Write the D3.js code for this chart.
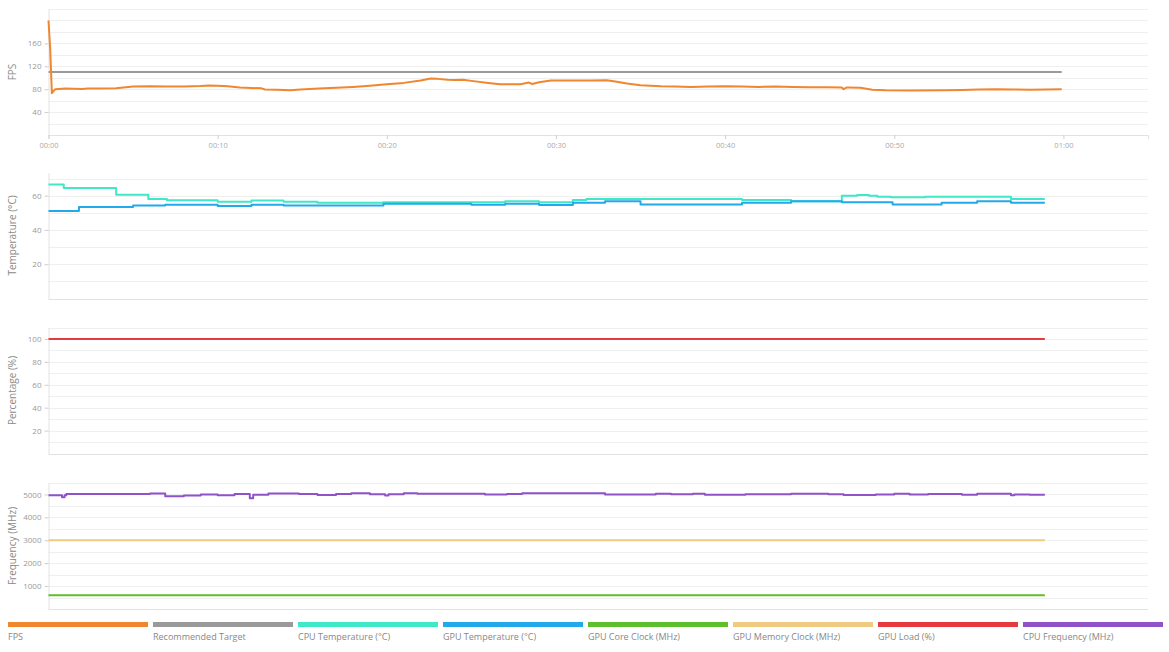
<!DOCTYPE html>
<html><head><meta charset="utf-8">
<script src="https://cdn.jsdelivr.net/npm/d3@7/dist/d3.min.js"></script>
<style>
html,body{margin:0;padding:0;background:#fff;}
svg{display:block;font-family:"Open Sans",sans-serif;}
</style></head>
<body><svg id="chart" width="1169" height="652"></svg>
<script>
// ---------- DATA ----------
const seriesNames = ["FPS","Recommended Target","CPU Temperature (°C)","GPU Temperature (°C)","GPU Core Clock (MHz)","GPU Memory Clock (MHz)","GPU Load (%)","CPU Frequency (MHz)"];
const seriesColors = ["#f0862e","#9a9a9a","#3fe8c6","#22a9ec","#5cbf2b","#eecb80","#e63a3f","#8f52c9"];
const xTickLabels = ["00:00","00:10","00:20","00:30","00:40","00:50","01:00"];
const xTickValues = [0,10,20,30,40,50,60];

// [seconds, value]
const fps = [[0,200],[0.1,150],[0.2,73],[0.4,80],[1,81],[2,80.5],[2.3,81],[3,81],[4,81.5],[5,84.5],[6,85],[7,84.5],[8,84.5],[9,85.5],[9.5,86.5],[10,86],[10.6,85],[11.3,83],[12,82],[12.6,81.5],[12.8,79.5],[13.5,79],[14.3,78],[14.9,79.5],
 [16,81],[17,82.5],[18,84],[19,86],[20,88.5],[21,91],[22,95],[22.6,98.5],[23,98],[23.6,96.5],[24,96],[24.5,96.5],[25,94.5],[26,91],[26.7,88.7],[27.9,88.7],[28.4,91.5],[28.6,89],[29,92],[29.7,95],[31,95],[32,95],[33,95.5],[33.5,93.5],[34.2,90],[35,87],[36.2,85],
 [37,84.5],[38,84],[39,84.5],[40,85],[41,84.5],[42,84],[43,84.5],[44,84],[45,83.5],[46,83.5],[46.9,83],[47,80],[47.2,83],[48,82.5],[48.7,79],[49.5,78],[51,77.5],[53,78],[54,78.5],[55,79.5],[56,80],[57,79.5],[58,79],[59,79.5],[59.9,80]];
const target = [[0,110],[59.9,110]];
const cpuTemp = [[0,66.5],[0.9,64.5],[4,60.5],[5.9,58.1],[7,57.3],[10,56.4],[12,57.2],[13.9,56.5],[15.9,55.9],[19.8,56.2],[27,56.8],[29,56.2],[31,57.5],[31.8,58.1],[41,57.5],[43.9,56.8],[46.9,60],[47.8,60.4],[48.5,60],[49,59.4],[49.8,59.1],[51.8,59.4],[56.9,58.1],[58.9,58.1]];
const gpuTemp = [[0,51],[1.8,53.4],[5,54.2],[6.9,54.7],[10,54],[12,54.7],[13.9,54.2],[19.8,55.3],[25,54.7],[27,55.3],[29,54.5],[31,55.8],[32.9,56.8],[35,54.9],[41,55.8],[43.9,56.8],[46.9,56.2],[49.9,54.9],[52.8,55.8],[54.9,56.8],[56.9,55.8],[58.9,55.8]];
const gpuCore = [[0,600],[58.9,600]];
const gpuMem = [[0,3000],[58.9,3000]];
const gpuLoad = [[0,100],[58.9,100]];
const cpuFreq = [[0,4960],[0.8,4880],[0.95,4960],[1.05,5015],[6,5045],[6.9,4920],[8,4955],[9,5000],[10,4960],[11,5015],[11.9,4830],[12.1,4985],[13,5045],[14.8,5020],[15.9,4980],[17,5020],[17.9,5050],[19,5010],[19.9,4950],[20.1,5010],[21,5050],[21.8,5030],[25.8,5000],[27.1,5020],[28,5050],[32.9,5000],[35.9,5030],[36.8,5010],[38.1,5030],[38.8,4990],[41.2,5010],[43.9,5030],[46.1,5010],[47,4980],[48.9,5000],[50,5030],[50.9,5000],[52,5020],[54,4990],[54.9,5030],[56.9,4960],[57.1,5000],[58,4990],[58.9,4990]];

// ---------- LAYOUT ----------
const svg = d3.select("#chart");
const x = d3.scaleLinear().domain([0,65]).range([48.5,1148]);

const panels = [
  {top:9, h:126, dom:[0,220], ticks:[40,80,120,160], grid:d3.range(20,221,20), title:"FPS",
   lines:[{d:target,c:1,curve:d3.curveLinear},{d:fps,c:0,curve:d3.curveLinear}], xaxis:true},
  {top:172.5, h:126, dom:[0,73.5], ticks:[20,40,60], grid:d3.range(10,71,10), title:"Temperature (°C)",
   lines:[{d:cpuTemp,c:2,curve:d3.curveStepAfter},{d:gpuTemp,c:3,curve:d3.curveStepAfter}]},
  {top:327.5, h:126, dom:[0,110], ticks:[20,40,60,80,100], grid:d3.range(10,111,10), title:"Percentage (%)",
   lines:[{d:gpuLoad,c:6,curve:d3.curveLinear}]},
  {top:483, h:126, dom:[0,5500], ticks:[1000,2000,3000,4000,5000], grid:d3.range(500,5501,500), title:"Frequency (MHz)",
   lines:[{d:gpuCore,c:4,curve:d3.curveLinear},{d:gpuMem,c:5,curve:d3.curveLinear},{d:cpuFreq,c:7,curve:d3.curveStepAfter}]}
];

panels.forEach(p=>{
  const y = d3.scaleLinear().domain(p.dom).range([p.top+p.h, p.top]);
  const g = svg.append("g");
  g.selectAll(".grid").data(p.grid).enter().append("line")
    .attr("x1",48.5).attr("x2",1148)
    .attr("y1",d=>Math.round(y(d))+0.5).attr("y2",d=>Math.round(y(d))+0.5)
    .attr("stroke","#efefef").attr("stroke-width",1);
  g.append("line").attr("x1",48.5).attr("x2",1148)
    .attr("y1",Math.round(y(0))+0.5).attr("y2",Math.round(y(0))+0.5)
    .attr("stroke","#e2e2e2");
  const ya = g.append("g").attr("transform","translate(48.5,0)")
    .call(d3.axisLeft(y).tickValues(p.ticks).tickFormat(d3.format("d")).tickSize(4).tickSizeOuter(0).tickPadding(3));
  ya.select(".domain").attr("stroke","#e2e2e2");
  ya.selectAll(".tick line").attr("stroke","#cfcfcf");
  ya.selectAll(".tick text").attr("fill","#999").attr("font-size","8px").attr("font-family","Open Sans");
  g.append("text").attr("transform",`translate(16,${p.top+p.h/2}) rotate(-90)`)
    .attr("text-anchor","middle").attr("fill","#8a8a8a").attr("font-size","10px").text(p.title);
  if(p.xaxis){
    const xa = g.append("g").attr("transform",`translate(0,${p.top+p.h})`)
      .call(d3.axisBottom(x).tickValues(xTickValues).tickFormat((d,i)=>xTickLabels[i]).tickSize(4).tickSizeOuter(4).tickPadding(4));
    xa.select(".domain").attr("stroke","#e2e2e2");
    xa.selectAll(".tick line").attr("stroke","#cfcfcf");
    xa.selectAll(".tick text").attr("fill","#aaa").attr("font-size","7.5px").attr("font-family","Open Sans");
  }
  p.lines.forEach(l=>{
    const line = d3.line().x(d=>x(d[0])).y(d=>y(d[1])).curve(l.curve);
    g.append("path").datum(l.d).attr("d",line).attr("fill","none")
      .attr("stroke",seriesColors[l.c]).attr("stroke-width",2).attr("stroke-linejoin","round");
  });
});

// ---------- LEGEND ----------
const lx = d3.scaleBand().domain(seriesNames).range([8,1168]).paddingInner(0);
const lg = svg.append("g");
seriesNames.forEach((n,i)=>{
  lg.append("rect").attr("x",lx(n)).attr("y",622).attr("width",lx.bandwidth()-5).attr("height",5)
    .attr("fill",seriesColors[i]);
  lg.append("text").attr("x",lx(n)).attr("y",640).attr("fill","#888").attr("font-size","9px").text(n);
});
</script></body></html>
